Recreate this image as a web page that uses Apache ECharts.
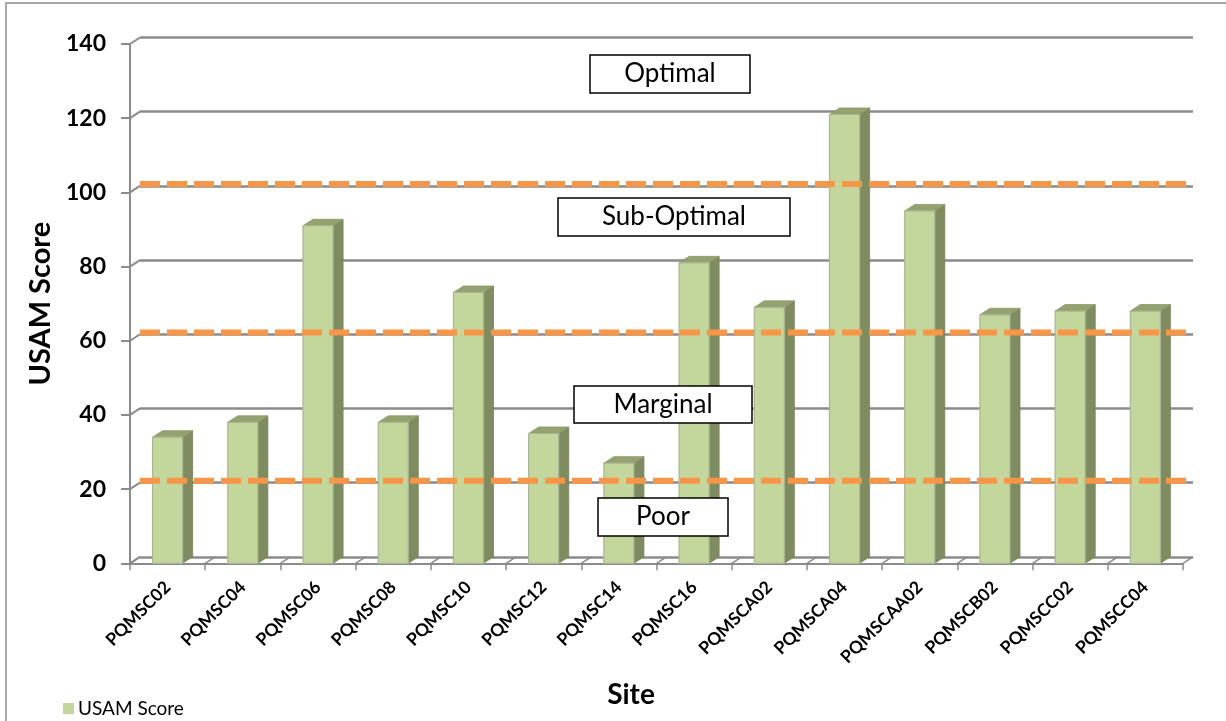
<!DOCTYPE html>
<html>
<head>
<meta charset="utf-8">
<script src="https://cdn.jsdelivr.net/npm/echarts@6/dist/echarts.min.js"></script>
<style>
  html, body { margin: 0; padding: 0; background: #ffffff; }
  #chart { width: 1226px; height: 721px; }
</style>
</head>
<body>
<div id="chart"></div>
<script>
// Site names along the horizontal axis
const categories = ['PQMSC02', 'PQMSC04', 'PQMSC06', 'PQMSC08', 'PQMSC10', 'PQMSC12', 'PQMSC14',
  'PQMSC16', 'PQMSCA02', 'PQMSCA04', 'PQMSCAA02', 'PQMSCB02', 'PQMSCC02', 'PQMSCC04'];
// USAM score per site
const scores = [34, 38, 91, 38, 73, 35, 27, 81, 69, 121, 95, 67, 68, 68];
// Value axis range
const yMin = 0;
const yMax = 140;
const yStep = 20;
const yTicks = [0, 20, 40, 60, 80, 100, 120, 140];
// Condition class boundaries (dashed lines)
const thresholds = [20.5, 60.5, 100.5];
// Condition class names
const zoneNames = ['Optimal', 'Sub-Optimal', 'Marginal', 'Poor'];

const FONT = 'Lato';
const DEPTH_X = 10;      // pseudo-3D depth offset
const DEPTH_Y = -6.5;
const GRID_GRAY = '#8b8b8b';

const chart = echarts.init(document.getElementById('chart'), null, { renderer: 'canvas' });

// 3D-style column: front face, right side face and top face
function renderBar(params, api) {
  const idx = api.value(0);
  const v = api.value(1);
  const top = api.coord([idx, v]);
  const base = api.coord([idx, 0]);
  const w = api.size([1, 0])[0] * 0.4;
  const x0 = top[0] - w / 2;
  const x1 = top[0] + w / 2;
  const yt = top[1];
  const yb = base[1];
  return {
    type: 'group',
    children: [
      {
        type: 'polygon',
        shape: { points: [[x1, yt], [x1 + DEPTH_X, yt + DEPTH_Y], [x1 + DEPTH_X, yb + DEPTH_Y], [x1, yb]] },
        style: { fill: '#7f8c60', stroke: '#76835a', lineWidth: 0.8 }
      },
      {
        type: 'polygon',
        shape: { points: [[x0, yt], [x0 + DEPTH_X, yt + DEPTH_Y], [x1 + DEPTH_X, yt + DEPTH_Y], [x1, yt]] },
        style: { fill: '#93a26e', stroke: '#8a9966', lineWidth: 0.8 }
      },
      {
        type: 'rect',
        shape: { x: x0, y: yt, width: w, height: yb - yt },
        style: { fill: '#c3d69b', stroke: '#aab595', lineWidth: 1.2 }
      }
    ]
  };
}

// Diagonal connectors from the front value-axis ticks to the back wall
function renderWallTicks(params, api) {
  const cs = params.coordSys;
  const y = api.coord([0, api.value(0)])[1];
  return {
    type: 'line',
    shape: { x1: cs.x, y1: y, x2: cs.x + DEPTH_X, y2: y + DEPTH_Y },
    style: { stroke: GRID_GRAY, lineWidth: 2 }
  };
}

// Diagonal floor lines at category boundaries
function renderFloorTicks(params, api) {
  const cs = params.coordSys;
  const idx = api.value(0);
  const band = cs.width / categories.length;
  const yb = cs.y + cs.height;
  const lines = [];
  const xs = [cs.x + idx * band];
  if (idx === categories.length - 1) xs.push(cs.x + cs.width);
  xs.forEach(function (x) {
    lines.push({
      type: 'line',
      shape: { x1: x, y1: yb, x2: x + DEPTH_X, y2: yb + DEPTH_Y },
      style: { stroke: GRID_GRAY, lineWidth: 1.5 }
    });
  });
  return { type: 'group', children: lines };
}

// Dashed class boundary across the back wall
function renderThreshold(params, api) {
  const cs = params.coordSys;
  const y = api.coord([0, api.value(0)])[1];
  return {
    type: 'line',
    shape: { x1: cs.x, y1: y, x2: cs.x + cs.width, y2: y },
    style: { stroke: '#f79646', lineWidth: 6, lineDash: [20, 7] }
  };
}

// Boxed class name
function zoneBox(name, x, y, w, h) {
  return {
    type: 'group',
    x: x, y: y, z: 100,
    children: [
      { type: 'rect', z: 100, shape: { x: 0, y: 0, width: w, height: h },
        style: { fill: '#ffffff', stroke: '#000000', lineWidth: 1.5 } },
      { type: 'text', z: 101, x: w / 2, y: h / 2,
        style: { text: name, fill: '#000000', font: '26px ' + FONT, align: 'center', verticalAlign: 'middle' } }
    ]
  };
}

const option = {
  animation: false,
  backgroundColor: '#ffffff',
  textStyle: { fontFamily: FONT },
  grid: [
    { left: 130, top: 44, width: 1053, height: 519.3 },
    { left: 140, top: 37.5, width: 1053, height: 519.3 }
  ],
  legend: {
    data: ['USAM Score'],
    left: 58, top: 694,
    icon: 'rect', itemWidth: 11, itemHeight: 11, itemGap: 4,
    textStyle: { fontFamily: FONT, fontSize: 19, color: '#000000', padding: [0, 0, 0, -1] }
  },
  xAxis: [
    {
      type: 'category', gridIndex: 0, data: categories,
      axisLine: { show: true, lineStyle: { color: GRID_GRAY, width: 2 } },
      axisTick: { show: true, length: 7, lineStyle: { color: GRID_GRAY, width: 1.5 } },
      axisLabel: { rotate: 45, margin: 21, interval: 0, color: '#000000',
        fontFamily: FONT, fontWeight: 'bold', fontSize: 17.5 },
      splitLine: { show: false }
    },
    {
      type: 'category', gridIndex: 1, data: categories, show: false
    }
  ],
  yAxis: [
    {
      type: 'value', gridIndex: 0, min: yMin, max: yMax, interval: yStep,
      name: 'USAM Score', nameLocation: 'middle', nameGap: 71,
      nameTextStyle: { fontFamily: FONT, fontWeight: 'bold', fontSize: 29, color: '#000000' },
      axisLine: { show: true, lineStyle: { color: GRID_GRAY, width: 2 } },
      axisTick: { show: true, length: 9, lineStyle: { color: GRID_GRAY, width: 2 } },
      axisLabel: { margin: 24, color: '#000000', fontFamily: FONT, fontWeight: 'bold', fontSize: 23 },
      splitLine: { show: false }
    },
    {
      type: 'value', gridIndex: 1, min: yMin, max: yMax, interval: yStep,
      axisLine: { show: false }, axisTick: { show: false }, axisLabel: { show: false },
      splitLine: { show: true, lineStyle: { color: GRID_GRAY, width: 2.5 } }
    }
  ],
  series: [
    {
      name: 'wallTicks', type: 'custom', xAxisIndex: 0, yAxisIndex: 0, z: 1,
      renderItem: renderWallTicks, data: yTicks.map(function (t) { return [t]; }),
      silent: true, encode: { y: 0 }
    },
    {
      name: 'floorTicks', type: 'custom', xAxisIndex: 0, yAxisIndex: 0, z: 1,
      renderItem: renderFloorTicks, data: categories.map(function (c, i) { return [i]; }),
      silent: true, encode: { x: 0 }
    },
    {
      name: 'USAM Score', type: 'custom', xAxisIndex: 0, yAxisIndex: 0, z: 5,
      itemStyle: { color: '#c3d69b' },
      renderItem: renderBar,
      data: scores.map(function (v, i) { return [i, v]; }),
      encode: { x: 0, y: 1 }
    },
    {
      name: 'thresholds', type: 'custom', xAxisIndex: 1, yAxisIndex: 1, z: 10,
      renderItem: renderThreshold, data: thresholds.map(function (t) { return [t]; }),
      silent: true, encode: { y: 0 }
    }
  ],
  graphic: [
    { type: 'rect', z: 0, shape: { x: 6, y: 3, width: 1240, height: 740 },
      style: { fill: 'none', stroke: '#8c8c8c', lineWidth: 1.5 } },
    { type: 'text', x: 631, y: 695, z: 100,
      style: { text: 'Site', font: 'bold 28px ' + FONT, fill: '#000000', align: 'center', verticalAlign: 'middle' } },
    zoneBox(zoneNames[0], 590, 55, 160, 38),
    zoneBox(zoneNames[1], 558, 198, 232, 38),
    zoneBox(zoneNames[2], 574, 386, 178, 37),
    zoneBox(zoneNames[3], 598, 498, 130, 38)
  ]
};

chart.setOption(option);
</script>
</body>
</html>
